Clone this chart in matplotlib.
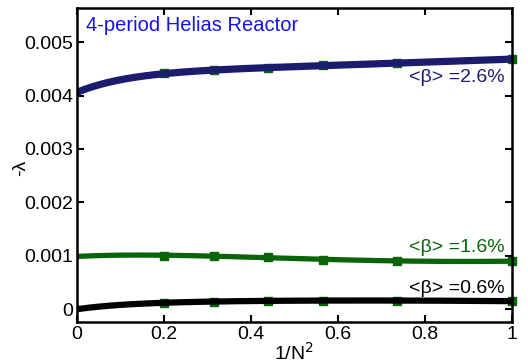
import numpy as np
import matplotlib.pyplot as plt
from matplotlib.ticker import FormatStrFormatter

# 1/N^2 positions of the computed points
x_pts = [0.2, 0.314, 0.44, 0.565, 0.737, 1.0]

# -lambda values (first entry is the extrapolated x=0 end)
beta26 = [0.00406, 0.00442, 0.00447, 0.00451, 0.00457, 0.00461, 0.00468]
beta16 = [0.00099, 0.00100, 0.00100, 0.00097, 0.00093, 0.00090, 0.00090]
beta06 = [0.00000, 0.00012, 0.00014, 0.00016, 0.00016, 0.00016, 0.00015]

labels = ['<β> =2.6%', '<β> =1.6%', '<β> =0.6%']
label_y = [0.00434, 0.00116, 0.00039]
colors = ['#1c1c6e', '#0a640a', 'black']
widths = [5.2, 3.8, 4.5]

plt.rcParams['font.family'] = ['Liberation Sans', 'DejaVu Sans']
plt.rcParams['font.size'] = 14


def smooth(xs, ys, tau=0.12):
    # least squares fit with a saturating term, gives the smooth curve shape
    xs = np.asarray(xs)
    basis = lambda x: np.vstack([np.ones_like(x), 1 - np.exp(-x / tau), x, x**2]).T
    c, *_ = np.linalg.lstsq(basis(xs), np.asarray(ys), rcond=None)
    xx = np.linspace(0, 1, 300)
    return xx, basis(xx) @ c


def main():
    fig = plt.figure(figsize=(5.28, 3.63), dpi=100)
    ax = fig.add_axes([0.146, 0.113, 0.823, 0.865])

    xs = [0.0] + x_pts
    series = [beta26, beta16, beta06]
    taus = [0.12, 0.3, 0.12]
    for ys, col, lw, tau in zip(series, colors, widths, taus):
        xx, yy = smooth(xs, ys, tau)
        ax.plot(xx, yy, color=col, lw=lw, solid_capstyle='round', zorder=2)
        ax.plot(x_pts, ys[1:], 's', color='#0a640a', ms=6, zorder=1, clip_on=False)

    # labels next to the curves
    for lab, y, col in zip(labels, label_y, colors):
        ax.text(0.983, y, lab, color=col, ha='right', va='center')
    ax.text(0.02, 0.00532, '4-period Helias Reactor', color='#1414e6', ha='left',
            va='center', fontsize=14.5)

    ax.set_xlim(0, 1)
    ax.set_ylim(-0.00024, 0.00564)
    ax.set_xticks([0, 0.2, 0.4, 0.6, 0.8, 1.0])
    ax.set_yticks([0, 0.001, 0.002, 0.003, 0.004, 0.005])
    ax.xaxis.set_major_formatter(FormatStrFormatter('%g'))
    ax.yaxis.set_major_formatter(FormatStrFormatter('%g'))
    ax.tick_params(direction='in', top=True, right=True, length=5, width=1.5, pad=3)
    for s in ax.spines.values():
        s.set_linewidth(1.8)

    ax.set_xlabel('1/N$^2$', labelpad=-1)
    ax.set_ylabel('-λ')
    ax.yaxis.set_label_coords(-0.11, 0.49)

    fig.savefig('out.png', dpi=100)


if __name__ == "__main__":
    main()
